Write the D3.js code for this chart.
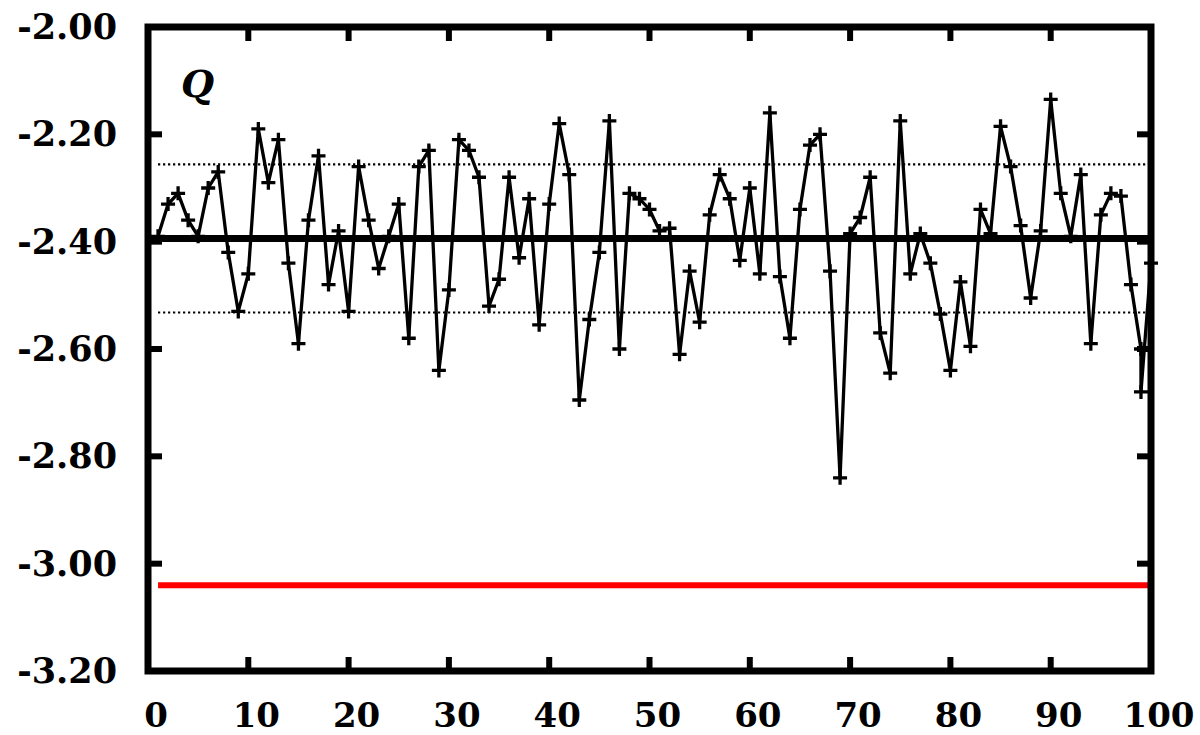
<!DOCTYPE html>
<html>
<head>
<meta charset="utf-8">
<script src="https://cdn.jsdelivr.net/npm/d3@7"></script>
<style>
html,body{margin:0;padding:0;background:#fff;}
svg{display:block;}
</style>
</head>
<body>
<svg id="chart" width="1200" height="735"></svg>
<script>
// ---- data ----
const xValues = [1,2,3,4,5,6,7,8,9,10,11,12,13,14,15,16,17,18,19,20,
  21,22,23,24,25,26,27,28,29,30,31,32,33,34,35,36,37,38,39,40,
  41,42,43,44,45,46,47,48,49,50,51,52,53,54,55,56,57,58,59,60,
  61,62,63,64,65,66,67,68,69,70,71,72,73,74,75,76,77,78,79,80,
  81,82,83,84,85,86,87,88,89,90,91,92,93,94,95,96,97,98,99,99,100];
const qValues = [-2.39,-2.33,-2.31,-2.36,-2.39,-2.30,-2.27,-2.42,-2.53,-2.46,
  -2.19,-2.29,-2.21,-2.44,-2.59,-2.36,-2.24,-2.48,-2.38,-2.53,
  -2.26,-2.36,-2.45,-2.39,-2.33,-2.58,-2.26,-2.23,-2.64,-2.49,
  -2.21,-2.23,-2.28,-2.52,-2.47,-2.28,-2.43,-2.32,-2.555,-2.33,
  -2.18,-2.275,-2.695,-2.545,-2.42,-2.175,-2.60,-2.31,-2.32,-2.34,
  -2.38,-2.375,-2.61,-2.455,-2.55,-2.35,-2.275,-2.32,-2.435,-2.30,
  -2.46,-2.16,-2.465,-2.58,-2.34,-2.22,-2.20,-2.455,-2.84,-2.385,
  -2.355,-2.28,-2.57,-2.645,-2.175,-2.46,-2.385,-2.44,-2.535,-2.64,
  -2.475,-2.595,-2.34,-2.385,-2.185,-2.26,-2.37,-2.505,-2.38,-2.135,
  -2.31,-2.39,-2.275,-2.59,-2.35,-2.31,-2.315,-2.48,-2.60,-2.68,-2.44];
const meanValue = -2.394;
const bandValues = [-2.256, -2.532];
const referenceValue = -3.04;
const lineRange = [1, 100];
const xTicks = [0,10,20,30,40,50,60,70,80,90,100];
const yTicks = [-2.0,-2.2,-2.4,-2.6,-2.8,-3.0,-3.2];
const yTickLabels = ["-2.00","-2.20","-2.40","-2.60","-2.80","-3.00","-3.20"];
const panelLabel = "Q";

// ---- layout ----
const L = 148, R = 1151, T = 27, B = 671;
const svg = d3.select("#chart");
const x = d3.scaleLinear().domain([0, 100]).range([L, R]);
const y = d3.scaleLinear().domain([-3.2, -2.0]).range([B, T]);

// reference (red) line
svg.append("line")
  .attr("x1", x(lineRange[0])).attr("x2", x(lineRange[1]))
  .attr("y1", y(referenceValue)).attr("y2", y(referenceValue))
  .attr("stroke", "#ff0000").attr("stroke-width", 6);

// dotted band lines
bandValues.forEach(v => {
  svg.append("line")
    .attr("x1", x(lineRange[0])).attr("x2", x(lineRange[1]))
    .attr("y1", y(v)).attr("y2", y(v))
    .attr("stroke", "#000").attr("stroke-width", 2.2)
    .attr("stroke-dasharray", "2.2,2.8");
});

// mean line
svg.append("line")
  .attr("x1", x(0)).attr("x2", x(lineRange[1]))
  .attr("y1", y(meanValue)).attr("y2", y(meanValue))
  .attr("stroke", "#000").attr("stroke-width", 7);

// data line
const pts = xValues.map((d, i) => [d, qValues[i]]);
svg.append("path")
  .datum(pts)
  .attr("fill", "none").attr("stroke", "#000").attr("stroke-width", 3.3)
  .attr("stroke-linejoin", "miter")
  .attr("d", d3.line().x(d => x(d[0])).y(d => y(d[1])));

// plus markers
const ms = 7;
svg.append("g").selectAll("path").data(pts).join("path")
  .attr("d", d => {
    const px = x(d[0]), py = y(d[1]);
    return `M${px - ms},${py}H${px + ms}M${px},${py - ms}V${py + ms}`;
  })
  .attr("stroke", "#000").attr("stroke-width", 3.3).attr("fill", "none");

// frame
svg.append("rect")
  .attr("x", L).attr("y", T).attr("width", R - L).attr("height", B - T)
  .attr("fill", "none").attr("stroke", "#000").attr("stroke-width", 7);

// ticks
const tl = 14;
const tg = svg.append("g").attr("stroke", "#000").attr("stroke-width", 6);
yTicks.forEach(v => {
  tg.append("line").attr("x1", L).attr("x2", L + tl).attr("y1", y(v)).attr("y2", y(v));
  tg.append("line").attr("x1", R).attr("x2", R - tl).attr("y1", y(v)).attr("y2", y(v));
});
xTicks.forEach(v => {
  tg.append("line").attr("x1", x(v)).attr("x2", x(v)).attr("y1", B).attr("y2", B - tl);
  tg.append("line").attr("x1", x(v)).attr("x2", x(v)).attr("y1", T).attr("y2", T + tl);
});

// tick labels
const font = "'DejaVu Serif', serif";
svg.append("g").selectAll("text").data(yTicks).join("text")
  .attr("x", 117).attr("y", d => y(d) + 12)
  .attr("text-anchor", "end")
  .attr("font-family", font).attr("font-weight", "bold").attr("font-size", 35)
  .text((d, i) => yTickLabels[i]);
svg.append("g").selectAll("text").data(xTicks).join("text")
  .attr("x", d => x(d) + 8).attr("y", 727)
  .attr("text-anchor", "middle")
  .attr("font-family", font).attr("font-weight", "bold").attr("font-size", 34)
  .text(d => d);

// panel label
svg.append("text")
  .attr("x", 181).attr("y", 97)
  .attr("font-family", font).attr("font-weight", "bold").attr("font-style", "italic")
  .attr("font-size", 38)
  .text(panelLabel);
</script>
</body>
</html>
